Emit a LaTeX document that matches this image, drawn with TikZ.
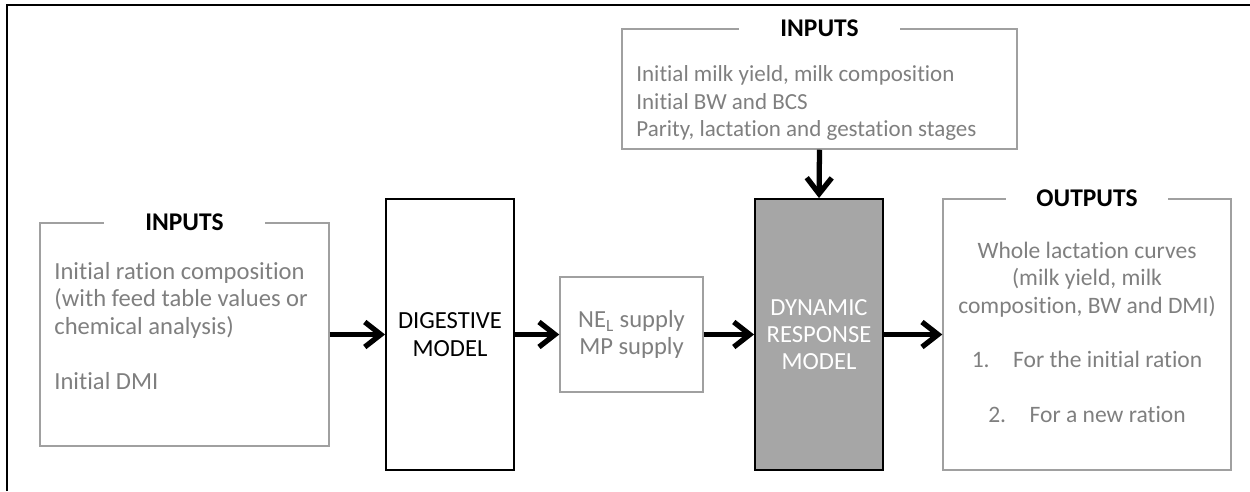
\documentclass[tikz,border=0pt]{standalone}
\usepackage{fontspec}
\setmainfont[Ligatures={NoCommon}]{Carlito}
\usetikzlibrary{arrows.meta}
\definecolor{txtgray}{HTML}{7F7F7F}
\definecolor{boxgray}{HTML}{A0A0A0}
\definecolor{modfill}{HTML}{A6A6A6}

\begin{document}
\begin{tikzpicture}[x=0.02cm,y=-0.02cm,font=\fontsize{14}{15.6}\selectfont,
  soft/.style={draw=boxgray,line width=0.85pt,inner sep=0pt},
  model/.style={draw=black,line width=1.1pt,inner sep=0pt,align=center,minimum width=2.56cm,minimum height=5.42cm},
  title/.style={fill=white,font=\fontsize{14.5}{15.6}\selectfont\bfseries,minimum width=3.24cm,inner sep=0pt,minimum height=0.5cm},
  body/.style={text=txtgray,inner sep=0pt},
  flow/.style={line width=3pt,-{Straight Barb[length=3.2mm,width=5mm]}}]
\useasboundingbox (0,0) rectangle (1250,491);
% frame
\draw[line width=1.1pt] (7,491)--(7,5)--(1250,5);
% boxes
\node[soft,minimum width=5.78cm,minimum height=4.46cm] (inL) at (184.5,334.5) {};
\node[title] (inLt) at (inL.north) {INPUTS};
\node[body,anchor=north west,align=left] (inLb) at (54,262)
  {Initial ration composition\\(with feed table values or\\chemical analysis)\\[15.6pt]Initial DMI};
\node[model] (dig) at (450,334.5) {DIGESTIVE\\MODEL};
\node[soft,text=txtgray,align=center,minimum width=2.86cm,minimum height=2.3cm] (ne) at (631.5,334.5)
  {NE\textsubscript{L} supply\\MP supply};
\node[model,fill=modfill,text=white] (dyn) at (819,334.5) {DYNAMIC\\RESPONSE\\MODEL};
\node[soft,minimum width=7.9cm,minimum height=2.4cm] (inT) at (819.5,89) {};
\node[title] (inTt) at (inT.north) {INPUTS};
\node[body,anchor=north west,align=left,font=\fontsize{13.1}{15.6}\selectfont] (inTb) at (636,65.5)
  {Initial milk yield, milk composition\\Initial BW and BCS\\Parity, lactation and gestation stages};
\node[soft,minimum width=5.76cm,minimum height=5.42cm] (out) at (1087,334.5) {};
\node[title] (outt) at (out.north) {OUTPUTS};
\node[body,anchor=north,align=center,font=\fontsize{13.4}{15.6}\selectfont] (outb) at (1087,241.5)
  {Whole lactation curves\\(milk yield, milk\\composition, BW and DMI)\\[15.6pt]1.\quad For the initial ration\\[15.6pt]2.\quad For a new ration};
% arrows
\draw[flow] (inL.east)--(dig.west);
\draw[flow] (dig.east)--(ne.west);
\draw[flow] (ne.east)--(dyn.west);
\draw[flow] (dyn.east)--(out.west);
\draw[flow] (inT.south)--(dyn.north);
\end{tikzpicture}
\end{document}
